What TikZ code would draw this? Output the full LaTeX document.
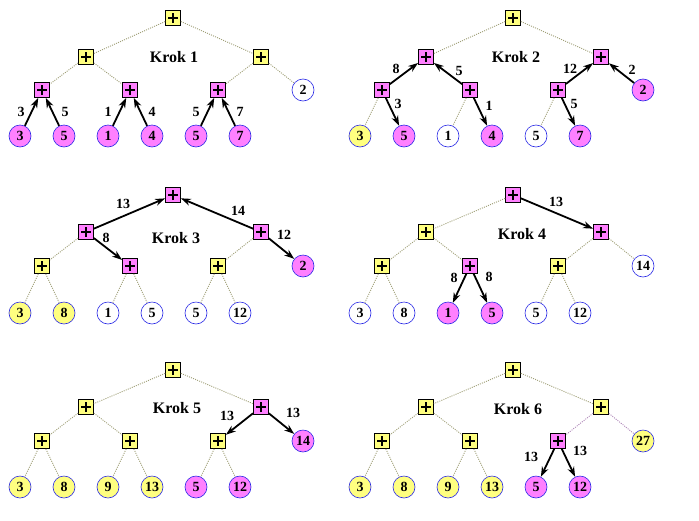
\documentclass[tikz,border=0pt]{standalone}
\usepackage{fontspec}
\setmainfont{Liberation Serif}
\usetikzlibrary{arrows.meta}
\definecolor{boxY}{RGB}{255,255,128}
\definecolor{boxM}{RGB}{255,128,255}
\definecolor{dotc}{RGB}{160,160,120}
\definecolor{dotp}{RGB}{175,135,185}
\definecolor{ringc}{RGB}{40,40,230}
\tikzset{
 opbox/.style={draw=black, line width=0.8pt, minimum size=15pt, inner sep=0pt,
   path picture={\draw[line width=1.7pt] ([xshift=-5pt]path picture bounding box.center) -- ([xshift=5pt]path picture bounding box.center);
                 \draw[line width=1.7pt] ([yshift=-5pt]path picture bounding box.center) -- ([yshift=5pt]path picture bounding box.center);}},
 ybox/.style={opbox, fill=boxY},
 mbox/.style={opbox, fill=boxM},
 val/.style={circle, draw=ringc, line width=0.6pt, minimum size=22pt, inner sep=0pt, font=\fontsize{14}{14}\selectfont\bfseries},
 yval/.style={val, fill=boxY},
 mval/.style={val, fill=boxM},
 wval/.style={val, fill=white},
 link/.style={draw=dotc, dash pattern=on 1pt off 1.2pt, line width=0.9pt},
 plink/.style={draw=dotp, dash pattern=on 1pt off 1.2pt, line width=0.9pt},
 flow/.style={draw=black, line width=1.8pt, -{Stealth[length=10pt,width=7pt]}},
 lbl/.style={font=\fontsize{14}{14}\selectfont\bfseries, inner sep=0pt},
 krok/.style={font=\fontsize{16}{16}\selectfont\bfseries, inner sep=0pt}
}
\begin{document}
\begin{tikzpicture}[x=1pt,y=-1pt]
\useasboundingbox (0,0) rectangle (699,520);
\fill[white] (0,0) rectangle (699,520);

% ---------- Panel 1 ----------
\begin{scope}
\node[ybox] (ar) at (173,18) {};
\node[ybox] (al) at (86,57) {};
\node[ybox] (ag) at (261,57) {};
\node[mbox] (am1) at (42,90) {};
\node[mbox] (am2) at (130,90) {};
\node[mbox] (am3) at (218,90) {};
\node[wval] (aR) at (303,90) {2};
\node[mval] (a1) at (20,136) {3};
\node[mval] (a2) at (64,136) {5};
\node[mval] (a3) at (108,136) {1};
\node[mval] (a4) at (152,136) {4};
\node[mval] (a5) at (196,136) {5};
\node[mval] (a6) at (240,136) {7};
\node[krok] (ak) at (174,57) {Krok 1};
\draw[link] (ar) -- (al);
\draw[link] (ar) -- (ag);
\draw[link] (al) -- (am1);
\draw[link] (al) -- (am2);
\draw[link] (ag) -- (am3);
\draw[link] (ag) -- (aR);
\draw[flow] (a1) -- (am1);
\draw[flow] (a2) -- (am1);
\draw[flow] (a3) -- (am2);
\draw[flow] (a4) -- (am2);
\draw[flow] (a5) -- (am3);
\draw[flow] (a6) -- (am3);
\node[lbl] (at1) at (21,112) {3};
\node[lbl] (at2) at (65,112) {5};
\node[lbl] (at3) at (108,112) {1};
\node[lbl] (at4) at (152,112) {4};
\node[lbl] (at5) at (196,112) {5};
\node[lbl] (at6) at (240,112) {7};
\end{scope}

% ---------- Panel 2 ----------
\begin{scope}[shift={(340,0)}]
\node[ybox] (br) at (173,18) {};
\node[mbox] (bl) at (86,57) {};
\node[mbox] (bg) at (261,57) {};
\node[mbox] (bm1) at (42,90) {};
\node[mbox] (bm2) at (130,90) {};
\node[mbox] (bm3) at (218,90) {};
\node[mval] (bR) at (303,90) {2};
\node[yval] (b1) at (20,136) {3};
\node[mval] (b2) at (64,136) {5};
\node[wval] (b3) at (108,136) {1};
\node[mval] (b4) at (152,136) {4};
\node[wval] (b5) at (196,136) {5};
\node[mval] (b6) at (240,136) {7};
\node[krok] (bk) at (176,57) {Krok 2};
\draw[link] (br) -- (bl);
\draw[link] (br) -- (bg);
\draw[link] (bm1) -- (b1);
\draw[link] (bm2) -- (b3);
\draw[link] (bm3) -- (b5);
\draw[flow] (bm1) -- (bl);
\draw[flow] (bm2) -- (bl);
\draw[flow] (bm1) -- (b2);
\draw[flow] (bm2) -- (b4);
\draw[flow] (bm3) -- (bg);
\draw[flow] (bR) -- (bg);
\draw[flow] (bm3) -- (b6);
\node[lbl] (bt1) at (56,69) {8};
\node[lbl] (bt2) at (119,71) {5};
\node[lbl] (bt3) at (58,104) {3};
\node[lbl] (bt4) at (149,106) {1};
\node[lbl] (bt5) at (230,69) {12};
\node[lbl] (bt6) at (292,70) {2};
\node[lbl] (bt7) at (234,104) {5};
\end{scope}

% ---------- Panel 3 ----------
\begin{scope}[shift={(0,177)}]
\node[mbox] (cr) at (173,18) {};
\node[mbox] (cl) at (86,55) {};
\node[mbox] (cg) at (261,55) {};
\node[ybox] (cm1) at (42,89) {};
\node[mbox] (cm2) at (130,89) {};
\node[ybox] (cm3) at (218,89) {};
\node[mval] (cR) at (303,89) {2};
\node[yval] (c1) at (20,136) {3};
\node[yval] (c2) at (64,136) {8};
\node[wval] (c3) at (108,136) {1};
\node[wval] (c4) at (152,136) {5};
\node[wval] (c5) at (196,136) {5};
\node[wval] (c6) at (240,136) {12};
\node[krok] (ck) at (176,61) {Krok 3};
\draw[link] (cl) -- (cm1);
\draw[link] (cg) -- (cm3);
\draw[link] (cm1) -- (c1);
\draw[link] (cm1) -- (c2);
\draw[link] (cm2) -- (c3);
\draw[link] (cm2) -- (c4);
\draw[link] (cm3) -- (c5);
\draw[link] (cm3) -- (c6);
\draw[flow] (cl) -- (cr);
\draw[flow] (cg) -- (cr);
\draw[flow] (cl) -- (cm2);
\draw[flow] (cg) -- (cR);
\node[lbl] (ct1) at (123,27) {13};
\node[lbl] (ct2) at (238,34) {14};
\node[lbl] (ct3) at (106,61) {8};
\node[lbl] (ct4) at (284,58) {12};
\end{scope}

% ---------- Panel 4 ----------
\begin{scope}[shift={(340,177)}]
\node[mbox] (dr) at (173,18) {};
\node[ybox] (dl) at (86,55) {};
\node[mbox] (dg) at (261,55) {};
\node[ybox] (dm1) at (42,89) {};
\node[mbox] (dm2) at (130,89) {};
\node[ybox] (dm3) at (218,89) {};
\node[wval] (dR) at (303,89) {14};
\node[wval] (d1) at (20,136) {3};
\node[wval] (d2) at (64,136) {8};
\node[mval] (d3) at (108,136) {1};
\node[mval] (d4) at (152,136) {5};
\node[wval] (d5) at (196,136) {5};
\node[wval] (d6) at (240,136) {12};
\node[krok] (dk) at (182,57) {Krok 4};
\draw[link] (dr) -- (dl);
\draw[link] (dl) -- (dm1);
\draw[link] (dl) -- (dm2);
\draw[link] (dg) -- (dm3);
\draw[link] (dg) -- (dR);
\draw[link] (dm1) -- (d1);
\draw[link] (dm1) -- (d2);
\draw[link] (dm3) -- (d5);
\draw[link] (dm3) -- (d6);
\draw[flow] (dr) -- (dg);
\draw[flow] (dm2) -- (d3);
\draw[flow] (dm2) -- (d4);
\node[lbl] (dt1) at (216,25) {13};
\node[lbl] (dt2) at (114,101) {8};
\node[lbl] (dt3) at (149,100) {8};
\end{scope}

% ---------- Panel 5 ----------
\begin{scope}[shift={(0,352)}]
\node[ybox] (er) at (173,18) {};
\node[ybox] (el) at (86,55) {};
\node[mbox] (eg) at (261,55) {};
\node[ybox] (em1) at (42,89) {};
\node[ybox] (em2) at (130,89) {};
\node[ybox] (em3) at (218,89) {};
\node[mval] (eR) at (303,89) {14};
\node[yval] (e1) at (20,135) {3};
\node[yval] (e2) at (64,135) {8};
\node[yval] (e3) at (108,135) {9};
\node[yval] (e4) at (152,135) {13};
\node[mval] (e5) at (196,135) {5};
\node[mval] (e6) at (240,135) {12};
\node[krok] (ek) at (177,56) {Krok 5};
\draw[link] (er) -- (el);
\draw[link] (er) -- (eg);
\draw[link] (el) -- (em1);
\draw[link] (el) -- (em2);
\draw[link] (em1) -- (e1);
\draw[link] (em1) -- (e2);
\draw[link] (em2) -- (e3);
\draw[link] (em2) -- (e4);
\draw[link] (em3) -- (e5);
\draw[link] (em3) -- (e6);
\draw[flow] (eg) -- (em3);
\draw[flow] (eg) -- (eR);
\node[lbl] (et1) at (227,64) {13};
\node[lbl] (et2) at (293,61) {13};
\end{scope}

% ---------- Panel 6 ----------
\begin{scope}[shift={(340,352)}]
\node[ybox] (fr) at (173,18) {};
\node[ybox] (fl) at (86,55) {};
\node[ybox] (fg) at (261,55) {};
\node[ybox] (fm1) at (42,89) {};
\node[ybox] (fm2) at (130,89) {};
\node[mbox] (fm3) at (218,89) {};
\node[yval] (fR) at (303,89) {27};
\node[yval] (f1) at (20,135) {3};
\node[yval] (f2) at (64,135) {8};
\node[yval] (f3) at (108,135) {9};
\node[yval] (f4) at (152,135) {13};
\node[mval] (f5) at (196,135) {5};
\node[mval] (f6) at (240,135) {12};
\node[krok] (fk) at (178,57) {Krok 6};
\draw[link] (fr) -- (fl);
\draw[link] (fr) -- (fg);
\draw[link] (fl) -- (fm1);
\draw[link] (fl) -- (fm2);
\draw[plink] (fg) -- (fm3);
\draw[plink] (fg) -- (fR);
\draw[link] (fm1) -- (f1);
\draw[link] (fm1) -- (f2);
\draw[link] (fm2) -- (f3);
\draw[link] (fm2) -- (f4);
\draw[flow] (fm3) -- (f5);
\draw[flow] (fm3) -- (f6);
\node[lbl] (ft1) at (191,105) {13};
\node[lbl] (ft2) at (240,99) {13};
\end{scope}
\end{tikzpicture}
\end{document}
